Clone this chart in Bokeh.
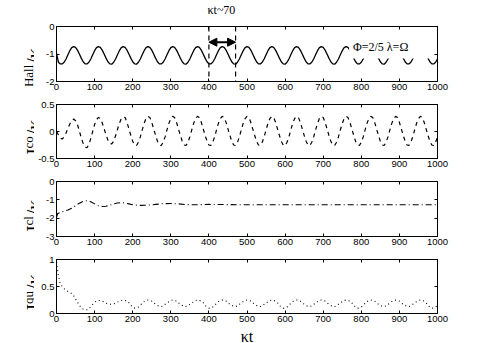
import math
from bokeh.plotting import figure
from bokeh.models import (Range1d, LinearAxis, FixedTicker, Label, Span, Arrow,
                          NormalHead, BoxAnnotation, CustomLabelingPolicy)
from bokeh.core.properties import value
from bokeh.layouts import column, row
from bokeh.embed import file_html
from bokeh.resources import INLINE

# ---------------- data ----------------
# common time grid for the oscillating currents (kappa*t)
t_grid = list(range(0, 1001, 5))

hall = [-0.97, -1.30, -1.36,
        -1.36, -1.30, -1.18, -1.03, -0.88, -0.77, -0.73, -0.76, -0.86, -1.00, -1.15, -1.28, -1.36,
        -1.36, -1.30, -1.18, -1.03, -0.88, -0.77, -0.73, -0.76, -0.86, -1.00, -1.15, -1.28, -1.36,
        -1.37, -1.30, -1.18, -1.03, -0.88, -0.77, -0.73, -0.76, -0.86, -1.00, -1.15, -1.28, -1.36,
        -1.37, -1.30, -1.18, -1.03, -0.88, -0.77, -0.73, -0.76, -0.86, -1.00, -1.15, -1.28, -1.36,
        -1.36, -1.30, -1.18, -1.03, -0.88, -0.77, -0.73, -0.76, -0.86, -1.00, -1.15, -1.28, -1.36,
        -1.37, -1.30, -1.18, -1.03, -0.88, -0.77, -0.73, -0.76, -0.86, -1.00, -1.15, -1.28, -1.36,
        -1.36, -1.30, -1.18, -1.03, -0.88, -0.77, -0.73, -0.76, -0.86, -1.00, -1.15, -1.28, -1.36,
        -1.37, -1.30, -1.18, -1.03, -0.88, -0.77, -0.73, -0.76, -0.86, -1.00, -1.15, -1.28, -1.36,
        -1.36, -1.30, -1.18, -1.03, -0.88, -0.77, -0.73, -0.76, -0.86, -1.00, -1.15, -1.28, -1.36,
        -1.37, -1.30, -1.18, -1.03, -0.88, -0.77, -0.73, -0.76, -0.86, -1.00, -1.15, -1.28, -1.36,
        -1.36, -1.30, -1.18, -1.03, -0.88, -0.77, -0.73, -0.76, -0.86, -1.00, -1.15, -1.28, -1.36,
        -1.37, -1.30, -1.18, -1.03, -0.88, -0.77, -0.73, -0.76, -0.86, -1.00, -1.15, -1.28, -1.36,
        -1.36, -1.30, -1.18, -1.03, -0.88, -0.77, -0.73, -0.76, -0.86, -1.00, -1.15, -1.28, -1.36,
        -1.37, -1.30, -1.18, -1.03, -0.88, -0.77, -0.73, -0.76, -0.86, -1.00, -1.15, -1.28, -1.36,
        -1.36, -1.30, -1.18, -1.03, -0.88, -0.77, -0.73, -0.76, -0.86, -1.00, -1.15, -1.28, -1.36,
        -1.36, -1.30, -1.18]

co = [0.00, -0.06, -0.12, -0.14, -0.10, -0.03, 0.06, 0.14, 0.20, 0.23, 0.20, 0.13, 0.01,
      -0.12, -0.22, -0.29, -0.30, -0.24, -0.13, 0.00, 0.13, 0.22, 0.26, 0.24, 0.16, 0.05,
      -0.06, -0.16, -0.22, -0.23, -0.18, -0.08, 0.04, 0.15, 0.24, 0.27, 0.26,
      0.17, 0.05, -0.07, -0.18, -0.25,
      -0.26, -0.20, -0.10, 0.03, 0.15, 0.24, 0.28, 0.26, 0.17, 0.05, -0.07, -0.18, -0.25,
      -0.26, -0.20, -0.10, 0.03, 0.15, 0.24, 0.28, 0.26, 0.17, 0.05, -0.07, -0.18, -0.25,
      -0.26, -0.20, -0.10, 0.03, 0.15, 0.24, 0.28, 0.26, 0.17, 0.05, -0.07, -0.18, -0.25,
      -0.26, -0.20, -0.10, 0.03, 0.15, 0.24, 0.28, 0.26, 0.17, 0.05, -0.07, -0.18, -0.25,
      -0.26, -0.20, -0.10, 0.03, 0.15, 0.24, 0.28, 0.26, 0.17, 0.05, -0.07, -0.18, -0.25,
      -0.26, -0.20, -0.10, 0.03, 0.15, 0.24, 0.28, 0.26, 0.17, 0.05, -0.07, -0.18, -0.25,
      -0.26, -0.20, -0.10, 0.03, 0.15, 0.24, 0.28, 0.26, 0.17, 0.05, -0.07, -0.18, -0.25,
      -0.26, -0.20, -0.10, 0.03, 0.15, 0.24, 0.28, 0.26, 0.17, 0.05, -0.07, -0.18, -0.25,
      -0.26, -0.20, -0.10, 0.03, 0.15, 0.24, 0.28, 0.26, 0.17, 0.05, -0.07, -0.18, -0.25,
      -0.26, -0.20, -0.10, 0.03, 0.15, 0.24, 0.28, 0.26, 0.17, 0.05, -0.07, -0.18, -0.25,
      -0.26, -0.20, -0.10, 0.03, 0.15, 0.24, 0.28, 0.26, 0.17, 0.05, -0.07, -0.18, -0.25,
      -0.26, -0.20, -0.10, 0.03, 0.15, 0.24, 0.28, 0.26, 0.17, 0.05, -0.07, -0.18, -0.25,
      -0.26, -0.20, -0.10]

qu = [0.95, 0.70, 0.55, 0.50, 0.46, 0.43, 0.41, 0.39, 0.37, 0.33, 0.27, 0.21, 0.15,
      0.11, 0.08, 0.07, 0.07, 0.09, 0.13, 0.17, 0.21, 0.23, 0.24, 0.24, 0.23, 0.21,
      0.19, 0.18, 0.17, 0.17, 0.18, 0.19, 0.21, 0.23, 0.24, 0.25, 0.24,
      0.23, 0.20, 0.15, 0.12, 0.10,
      0.10, 0.12, 0.15, 0.19, 0.22, 0.24, 0.25, 0.24, 0.23, 0.20, 0.17, 0.15, 0.13,
      0.13, 0.14, 0.17, 0.19, 0.22, 0.24, 0.25, 0.24, 0.23, 0.20, 0.17, 0.15, 0.13,
      0.13, 0.14, 0.17, 0.19, 0.22, 0.24, 0.25, 0.24, 0.23, 0.20, 0.15, 0.12, 0.10,
      0.10, 0.12, 0.15, 0.19, 0.22, 0.24, 0.25, 0.24, 0.23, 0.20, 0.17, 0.15, 0.13,
      0.13, 0.14, 0.17, 0.19, 0.22, 0.24, 0.25, 0.24, 0.23, 0.20, 0.17, 0.15, 0.13,
      0.13, 0.14, 0.17, 0.19, 0.22, 0.24, 0.25, 0.24, 0.23, 0.20, 0.15, 0.12, 0.10,
      0.10, 0.12, 0.15, 0.19, 0.22, 0.24, 0.25, 0.24, 0.23, 0.20, 0.17, 0.15, 0.13,
      0.13, 0.14, 0.17, 0.19, 0.22, 0.24, 0.25, 0.24, 0.23, 0.20, 0.17, 0.15, 0.13,
      0.13, 0.14, 0.17, 0.19, 0.22, 0.24, 0.25, 0.24, 0.23, 0.20, 0.15, 0.12, 0.10,
      0.10, 0.12, 0.15, 0.19, 0.22, 0.24, 0.25, 0.24, 0.23, 0.20, 0.17, 0.15, 0.13,
      0.13, 0.14, 0.17, 0.19, 0.22, 0.24, 0.25, 0.24, 0.23, 0.20, 0.17, 0.15, 0.13,
      0.13, 0.14, 0.17, 0.19, 0.22, 0.24, 0.25, 0.24, 0.23, 0.20, 0.15, 0.12, 0.10,
      0.10, 0.12, 0.15]

cl_t = [0, 3, 10, 20, 30, 40, 50, 60, 70, 80, 90, 100, 110, 120, 130, 140, 150, 160,
        170, 180, 190, 200, 220, 240, 260, 280, 300, 320, 340, 360, 380, 400, 450,
        500, 600, 700, 800, 900, 1000]
cl = [-1.95, -1.75, -1.68, -1.62, -1.55, -1.46, -1.32, -1.18, -1.08, -1.05, -1.10,
      -1.22, -1.32, -1.36, -1.35, -1.30, -1.22, -1.17, -1.15, -1.17, -1.22, -1.27,
      -1.30, -1.29, -1.25, -1.21, -1.20, -1.22, -1.26, -1.27, -1.26, -1.25, -1.26,
      -1.27, -1.27, -1.27, -1.27, -1.27, -1.27]

x_ticks = [0, 100, 200, 300, 400, 500, 600, 700, 800, 900, 1000]
hall_ticks = [-2, -1, 0]
co_ticks = [-0.5, 0, 0.5]
cl_ticks = [-3, -2, -1, 0]
qu_ticks = [0, 0.5, 1]

period_marks = [400, 470]      # dashed markers of one oscillation period
period_arrow_y = -0.57
period_text = "κt~70"
param_text = "Φ=2/5 λ=Ω"
x_title = "κt"

# ---------------- styling ----------------
FRAME_W = 381
LAB_W = 34           # width of the strip that carries the rotated y titles
SERIF = "Liberation Serif"
SANS = "Liberation Sans"
BIG, SMALL = 20, 13  # font sizes (px) of the y titles
# approximate advance widths (em) of Liberation Serif glyphs
EM = {"J": 0.389, "H": 0.722, "a": 0.444, "l": 0.278, "c": 0.444, "o": 0.5,
      "q": 0.5, "u": 0.5, "/": 0.278, "κ": 0.55}

hide_labels = CustomLabelingPolicy(code="""
for (let i = 0; i < 32; i++) { try { indices.unset(i) } catch (e) {} }
return indices
""")


def fmt(v):
    return "%g" % v


def style_axis(ax, ticks, show_labels):
    ax.ticker = FixedTicker(ticks=ticks)
    ax.minor_tick_line_color = None
    ax.major_tick_in = 3
    ax.major_tick_out = 0
    ax.major_tick_line_color = "black"
    ax.axis_line_color = "black"
    ax.major_label_text_font = SANS
    ax.major_label_text_color = "black"
    ax.major_label_text_font_size = "9.5px"
    if show_labels:
        ax.major_label_standoff = 2
        ax.major_label_overrides = {t: fmt(t) for t in ticks}
    else:
        ax.major_label_standoff = 0
        ax.major_label_policy = hide_labels


def make_panel(x, y, yr, yticks, dash, lw, fh, bt, bb):
    p = figure(frame_width=FRAME_W, frame_height=fh,
               min_border_left=22, min_border_right=38,
               min_border_top=bt, min_border_bottom=bb,
               x_range=Range1d(0, 1000), y_range=Range1d(*yr),
               output_backend="svg", toolbar_location=None)
    p.xgrid.grid_line_color = None
    p.ygrid.grid_line_color = None
    p.outline_line_color = "black"
    p.background_fill_color = "white"
    p.border_fill_color = "white"
    bottom_ax = p.xaxis[0]
    left_ax = p.yaxis[0]
    style_axis(bottom_ax, x_ticks, True)
    style_axis(left_ax, yticks, True)
    top = LinearAxis()
    style_axis(top, x_ticks, False)
    right = LinearAxis()
    style_axis(right, yticks, False)
    p.add_layout(top, "above")
    p.add_layout(right, "right")
    p.line(x, y, line_color="black", line_width=lw, line_dash=dash)
    return p, bottom_ax


def make_title_strip(H, bb, fh, sup):
    f = figure(frame_width=LAB_W, frame_height=H, min_border=0,
               x_range=Range1d(0, LAB_W), y_range=Range1d(0, H),
               x_axis_location=None, y_axis_location=None,
               output_backend="svg", toolbar_location=None)
    f.xgrid.grid_line_color = None
    f.ygrid.grid_line_color = None
    f.outline_line_color = None
    f.border_fill_color = "white"
    f.background_fill_color = "white"
    j_w = EM["J"] * BIG
    sup_w = sum(EM[c] for c in sup) * SMALL
    sl_w = (EM["/"] + EM["κ"]) * BIG
    total = j_w + sup_w + 1 + sl_w
    y0 = bb + (fh - total) / 2.0
    base = LAB_W - 1
    common = dict(angle=math.pi / 2, text_font=value(SERIF), text_color="black",
                  text_align="left", text_baseline="alphabetic")
    f.text(x=[base], y=[y0], text=["J"], text_font_size=value("%dpx" % BIG), **common)
    f.text(x=[base - 5], y=[y0 + j_w], text=[sup],
           text_font_size=value("%dpx" % SMALL), **common)
    f.text(x=[base], y=[y0 + j_w + sup_w + 1], text=["/κ"],
           text_font_size=value("%dpx" % BIG), **common)
    return f


specs = [  # data x, data y, range, ticks, dash, width, frame h, top, bottom, superscript
    (t_grid, hall, (-2, 0), hall_ticks, "solid", 1.3, 55, 17, 14, "Hall"),
    (t_grid, co, (-0.5, 0.5), co_ticks, "4 4", 1.2, 54, 6, 14, "co"),
    (cl_t, cl, (-3, 0), cl_ticks, "6 3 1 3", 1.1, 55, 7, 14, "cl"),
    (t_grid, qu, (0, 1), qu_ticks, "1 3", 1.1, 54, 6, 34, "qu"),
]

panels, rows = [], []
for (x, y, yr, yt, dash, lw, fh, bt, bb, sup) in specs:
    p, bax = make_panel(x, y, yr, yt, dash, lw, fh, bt, bb)
    panels.append((p, bax))
    strip = make_title_strip(bt + fh + bb, bb, fh, sup)
    rows.append(row(strip, p, spacing=0))

p1 = panels[0][0]
p4, p4_bottom = panels[3]

# x title on the lowest panel
p4_bottom.axis_label = x_title
p4_bottom.axis_label_text_font = SERIF
p4_bottom.axis_label_text_font_style = "normal"
p4_bottom.axis_label_text_font_size = "16px"
p4_bottom.axis_label_text_color = "black"
p4_bottom.axis_label_standoff = 3

# period annotation of the top panel
p1.title.text = period_text
p1.title.align = "left"
p1.title.offset = 151
p1.title.standoff = 1
p1.title.text_font = SERIF
p1.title.text_font_style = "normal"
p1.title.text_font_size = "12px"
p1.title.text_color = "black"

for m in period_marks:
    p1.add_layout(Span(location=m, dimension="height", line_color="black",
                       line_width=1.2, line_dash="5 4"))
p1.add_layout(Arrow(x_start=period_marks[0], y_start=period_arrow_y,
                    x_end=period_marks[1], y_end=period_arrow_y,
                    line_color="black", line_width=2,
                    start=NormalHead(size=8, fill_color="black", line_color="black"),
                    end=NormalHead(size=8, fill_color="black", line_color="black")))
p1.add_layout(BoxAnnotation(left=768, right=990, bottom=-1.16, top=-0.15,
                            fill_color="white", fill_alpha=1, line_color=None))
p1.add_layout(Label(x=778, y=-0.73, text=param_text, text_font=SERIF,
                    text_font_size="12px", text_align="left", text_baseline="middle",
                    text_color="black"))

layout = column(*rows, spacing=0)
open("out.html", "w").write(file_html(layout, INLINE))
